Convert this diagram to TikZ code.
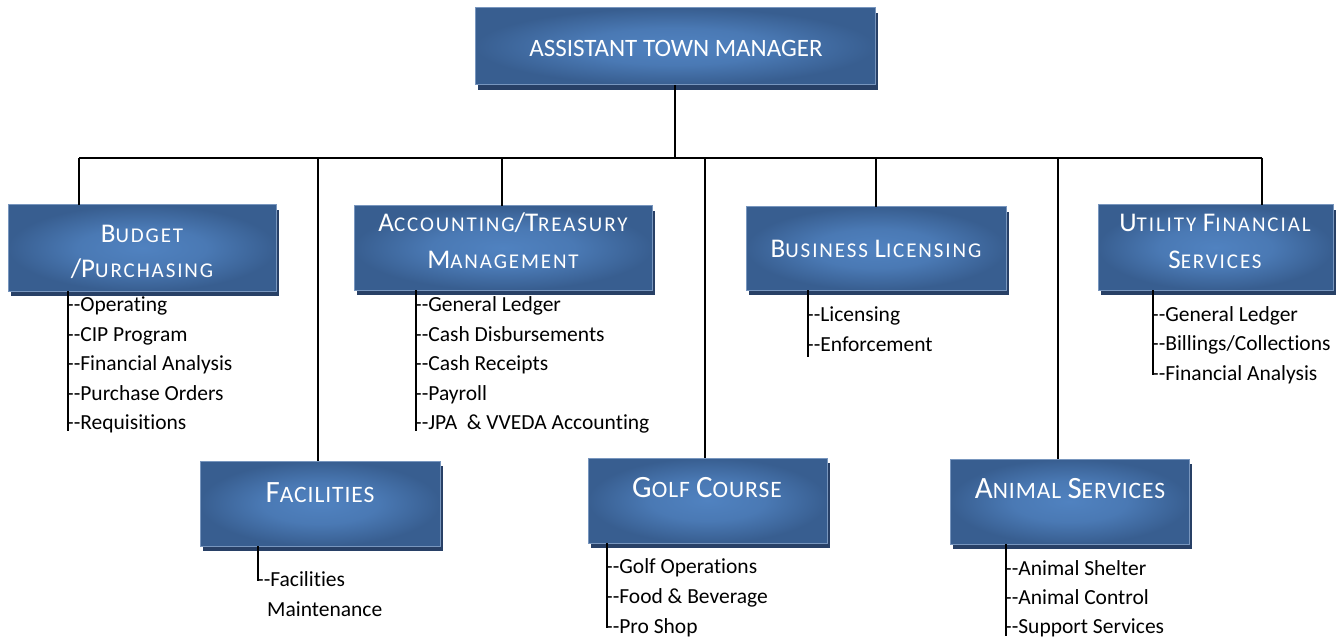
\documentclass[tikz,border=0pt]{standalone}
\usepackage{fontspec}
\setmainfont{Carlito}[Ligatures={TeXOff,CommonOff}]
\newfontfamily\scfontA{Carlito}[LetterSpace=9,Ligatures={TeXOff,CommonOff}]
\newfontfamily\scfontB{Carlito}[LetterSpace=4,Ligatures={TeXOff,CommonOff}]
\usetikzlibrary{shadows}
\newcommand\scA[1]{{\scfontA\fontsize{21}{24}\selectfont #1}}
\newcommand\scB[1]{{\scfontB\fontsize{23.5}{28}\selectfont #1}}
\definecolor{boxin}{RGB}{80,130,192}
\definecolor{boxout}{RGB}{56,94,144}
\definecolor{boxshadow}{RGB}{40,64,102}
\definecolor{boxedge}{RGB}{120,150,190}
\pgfdeclareradialshading{boxshade}{\pgfpoint{0bp}{0bp}}{color(0bp)=(boxin); color(12bp)=(boxin!75!boxout); color(25bp)=(boxout); color(50bp)=(boxout)}
\tikzset{
  box/.style={rectangle, inner sep=0pt, outer sep=0pt, shading=boxshade, draw=boxedge, line width=1pt,
    drop shadow={shadow xshift=3pt, shadow yshift=-5pt, fill=boxshadow, opacity=1}},
  ttlTop/.style={text=white, inner sep=0pt, anchor=base, font=\fontsize{25}{30}\selectfont},
  ttlA/.style={text=white, inner sep=0pt, anchor=base, font=\fontsize{27}{32}\selectfont},
  ttlB/.style={text=white, inner sep=0pt, anchor=base, font=\fontsize{31}{36}\selectfont},
  item/.style={inner sep=0pt, anchor=base west, font=\fontsize{21.5}{25}\selectfont},
  conn/.style={draw=black, line width=1.6pt},
}
\begin{document}
\begin{tikzpicture}[x=1pt,y=-1pt]
\useasboundingbox (0,0) rectangle (1341,639);
% boxes
\node[box, minimum width=400pt, minimum height=77pt] (atm) at (675,46.5) {};
\node[box, minimum width=268pt, minimum height=86pt] (bud) at (142,248) {};
\node[box, minimum width=298pt, minimum height=84pt] (acc) at (503,248) {};
\node[box, minimum width=260pt, minimum height=83pt] (bus) at (876,248.5) {};
\node[box, minimum width=235pt, minimum height=85pt] (uti) at (1215.5,247.5) {};
\node[box, minimum width=240pt, minimum height=85pt] (fac) at (320,503.5) {};
\node[box, minimum width=239pt, minimum height=85pt] (golf) at (707.5,500.5) {};
\node[box, minimum width=239pt, minimum height=85pt] (ani) at (1069.5,501.5) {};
% titles
\node[ttlTop] (atmT) at (676,57) {ASSISTANT TOWN MANAGER};
\node[ttlA] (budT1) at (142,242) {B\scA{UDGET}};
\node[ttlA] (budT2) at (142,277) {/P\scA{URCHASING}};
\node[ttlA] (accT1) at (503,232) {A\scA{CCOUNTING}/T\scA{REASURY}};
\node[ttlA] (accT2) at (503,268) {M\scA{ANAGEMENT}};
\node[ttlA] (busT) at (876,258) {B\scA{USINESS }L\scA{ICENSING}};
\node[ttlA] (utiT1) at (1215,232) {U\scA{TILITY }F\scA{INANCIAL}};
\node[ttlA] (utiT2) at (1215,268) {S\scA{ERVICES}};
\node[ttlB] (facT) at (320,502) {F\scB{ACILITIES}};
\node[ttlB] (golfT) at (707,497) {G\scB{OLF }C\scB{OURSE}};
\node[ttlB] (aniT) at (1070,498) {A\scB{NIMAL }S\scB{ERVICES}};
% org connectors
\coordinate (hub) at (675,158);
\coordinate (hl) at (79,158);
\coordinate (hr) at (1262,158);
\coordinate (d2) at (318,158);
\coordinate (d3) at (502,158);
\coordinate (d4) at (705,158);
\coordinate (d5) at (876,158);
\coordinate (d6) at (1058,158);
\draw[conn] (atm.south) -- (hub);
\draw[conn] (hl) -- (hr);
\draw[conn] (hl) -- (hl |- bud.north);
\draw[conn] (d2) -- (d2 |- fac.north);
\draw[conn] (d3) -- (d3 |- acc.north);
\draw[conn] (d4) -- (d4 |- golf.north);
\draw[conn] (d5) -- (d5 |- bus.north);
\draw[conn] (d6) -- (d6 |- ani.north);
\draw[conn] (hr) -- (hr |- uti.north);
% items: budget
\node[item] (b1) at (67,311.5) {--Operating};
\node[item] (b2) at (67,341) {--CIP Program};
\node[item] (b3) at (67,370.5) {--Financial Analysis};
\node[item] (b4) at (67,400) {--Purchase Orders};
\node[item] (b5) at (67,429.5) {--Requisitions};
\coordinate (bEnd) at (68,431);
\draw[conn] (bud.south -| bEnd) -- (bEnd);
% items: accounting
\node[item] (a1) at (415,311.5) {--General Ledger};
\node[item] (a2) at (415,341) {--Cash Disbursements};
\node[item] (a3) at (415,370.5) {--Cash Receipts};
\node[item] (a4) at (415,400) {--Payroll};
\node[item] (a5) at (415,429.5) {--JPA\ \ \& VVEDA Accounting};
\coordinate (aEnd) at (416,431);
\draw[conn] (acc.south -| aEnd) -- (aEnd);
% items: business
\node[item] (l1) at (807,321.5) {--Licensing};
\node[item] (l2) at (807,351) {--Enforcement};
\coordinate (lEnd) at (808,357);
\draw[conn] (bus.south -| lEnd) -- (lEnd);
% items: utility
\node[item] (u1) at (1152,321) {--General Ledger};
\node[item] (u2) at (1152,350.5) {--Billings/Collections};
\node[item] (u3) at (1152,380) {--Financial Analysis};
\coordinate (uEnd) at (1153,374.5);
\draw[conn] (uti.south -| uEnd) -- (uEnd);
% items: facilities
\node[item] (f1) at (257,586.5) {--Facilities};
\node[item] (f2) at (267,616.5) {Maintenance};
\coordinate (fEnd) at (258,581);
\draw[conn] (fac.south -| fEnd) -- (fEnd);
% items: golf
\node[item] (g1) at (606,573) {--Golf Operations};
\node[item] (g2) at (606,603) {--Food \& Beverage};
\node[item] (g3) at (606,633) {--Pro Shop};
\coordinate (gEnd) at (607,627.5);
\draw[conn] (golf.south -| gEnd) -- (gEnd);
% items: animal
\node[item] (n1) at (1005,575) {--Animal Shelter};
\node[item] (n2) at (1005,604) {--Animal Control};
\node[item] (n3) at (1005,633) {--Support Services};
\coordinate (nEnd) at (1006,636);
\draw[conn] (ani.south -| nEnd) -- (nEnd);
\end{tikzpicture}
\end{document}
